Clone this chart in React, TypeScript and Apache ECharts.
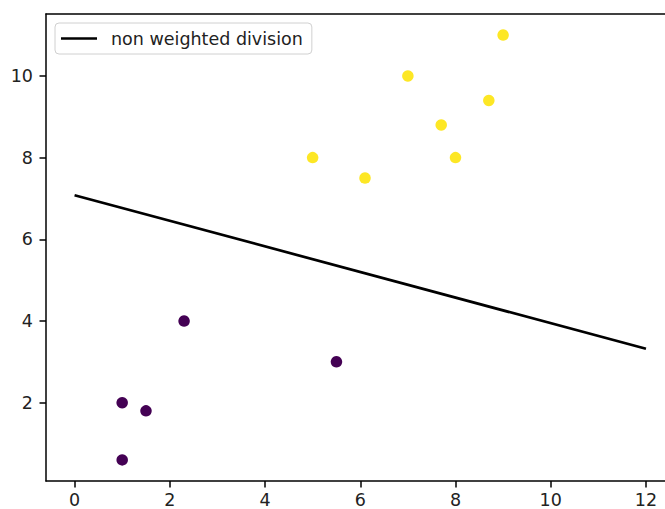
import React, { useEffect, useRef } from "react";
import * as echarts from "echarts";

const class0: number[][] = [
  [1, 2],
  [1, 0.6],
  [1.5, 1.8],
  [2.3, 4],
  [5.5, 3],
];
const class1: number[][] = [
  [5, 8],
  [6.1, 7.5],
  [7, 10],
  [7.7, 8.8],
  [8, 8],
  [8.7, 9.4],
  [9, 11],
];
const divisionLine: number[][] = [
  [0, 7.08],
  [12, 3.32],
];
const xTicks = [0, 2, 4, 6, 8, 10, 12];
const yTicks = [2, 4, 6, 8, 10];
const lineName = "non weighted division";

export default function App() {
  const ref = useRef<HTMLDivElement>(null);
  useEffect(() => {
    if (!ref.current) return;
    const chart = echarts.init(ref.current, null, { renderer: "svg" });
    const font = "DejaVu Sans";
    const axisCommon = {
      type: "value" as const,
      splitLine: { show: false },
      axisLine: { show: true, onZero: false, lineStyle: { color: "#000", width: 1.5 } },
      axisTick: {
        show: true,
        length: 6.5,
        lineStyle: { color: "#000", width: 1.5 },
      },
    };
    const xMin = -0.6;
    const xMax = 12.4;
    chart.setOption({
      animation: false,
      backgroundColor: "#fff",
      grid: {
        left: 46,
        top: 14,
        right: 0,
        bottom: 27.3,
        show: false,
      },
      legend: {
        data: [{ name: lineName, icon: "rect" }],
        left: 55,
        top: 23,
        orient: "vertical",
        itemWidth: 36,
        itemHeight: 2.7,
        padding: [6.5, 9, 6.5, 6],
        backgroundColor: "rgba(255,255,255,0.8)",
        borderColor: "#d0d0d0",
        borderWidth: 1,
        borderRadius: 4,
        textStyle: {
          fontFamily: font,
          fontSize: 17.5,
          lineHeight: 18,
          color: "#222",
          padding: [0, 0, 0, 9],
        },
      },
      xAxis: [
        {
          ...axisCommon,
          min: xMin,
          max: xMax,
          axisTick: { ...axisCommon.axisTick, customValues: xTicks },
          axisLabel: {
            customValues: xTicks,
            fontFamily: font,
            fontSize: 17.5,
            color: "#222",
            margin: 10,
          },
        },
        {
          ...axisCommon,
          position: "top",
          min: xMin,
          max: xMax,
          axisTick: { show: false },
          axisLabel: { show: false },
        },
      ],
      yAxis: {
        ...axisCommon,
        min: 0.083,
        max: 11.516,
        axisTick: { ...axisCommon.axisTick, customValues: yTicks },
        axisLabel: {
          customValues: yTicks,
          fontFamily: font,
          fontSize: 17.5,
          color: "#222",
          margin: 13,
        },
      },
      series: [
        {
          type: "scatter",
          name: "class0",
          data: class0,
          symbolSize: 11.5,
          itemStyle: { color: "#440154", opacity: 1 },
        },
        {
          type: "scatter",
          name: "class1",
          data: class1,
          symbolSize: 11.5,
          itemStyle: { color: "#fde725", opacity: 1 },
        },
        {
          type: "line",
          name: lineName,
          data: divisionLine,
          showSymbol: false,
          symbol: "none",
          lineStyle: { color: "#000", width: 2.7 },
          itemStyle: { color: "#000" },
        },
      ],
    });
    return () => chart.dispose();
  }, []);
  return (
    <div
      ref={ref}
      style={{ position: "absolute", left: 0, top: 0, width: 665, height: 509 }}
    />
  );
}
